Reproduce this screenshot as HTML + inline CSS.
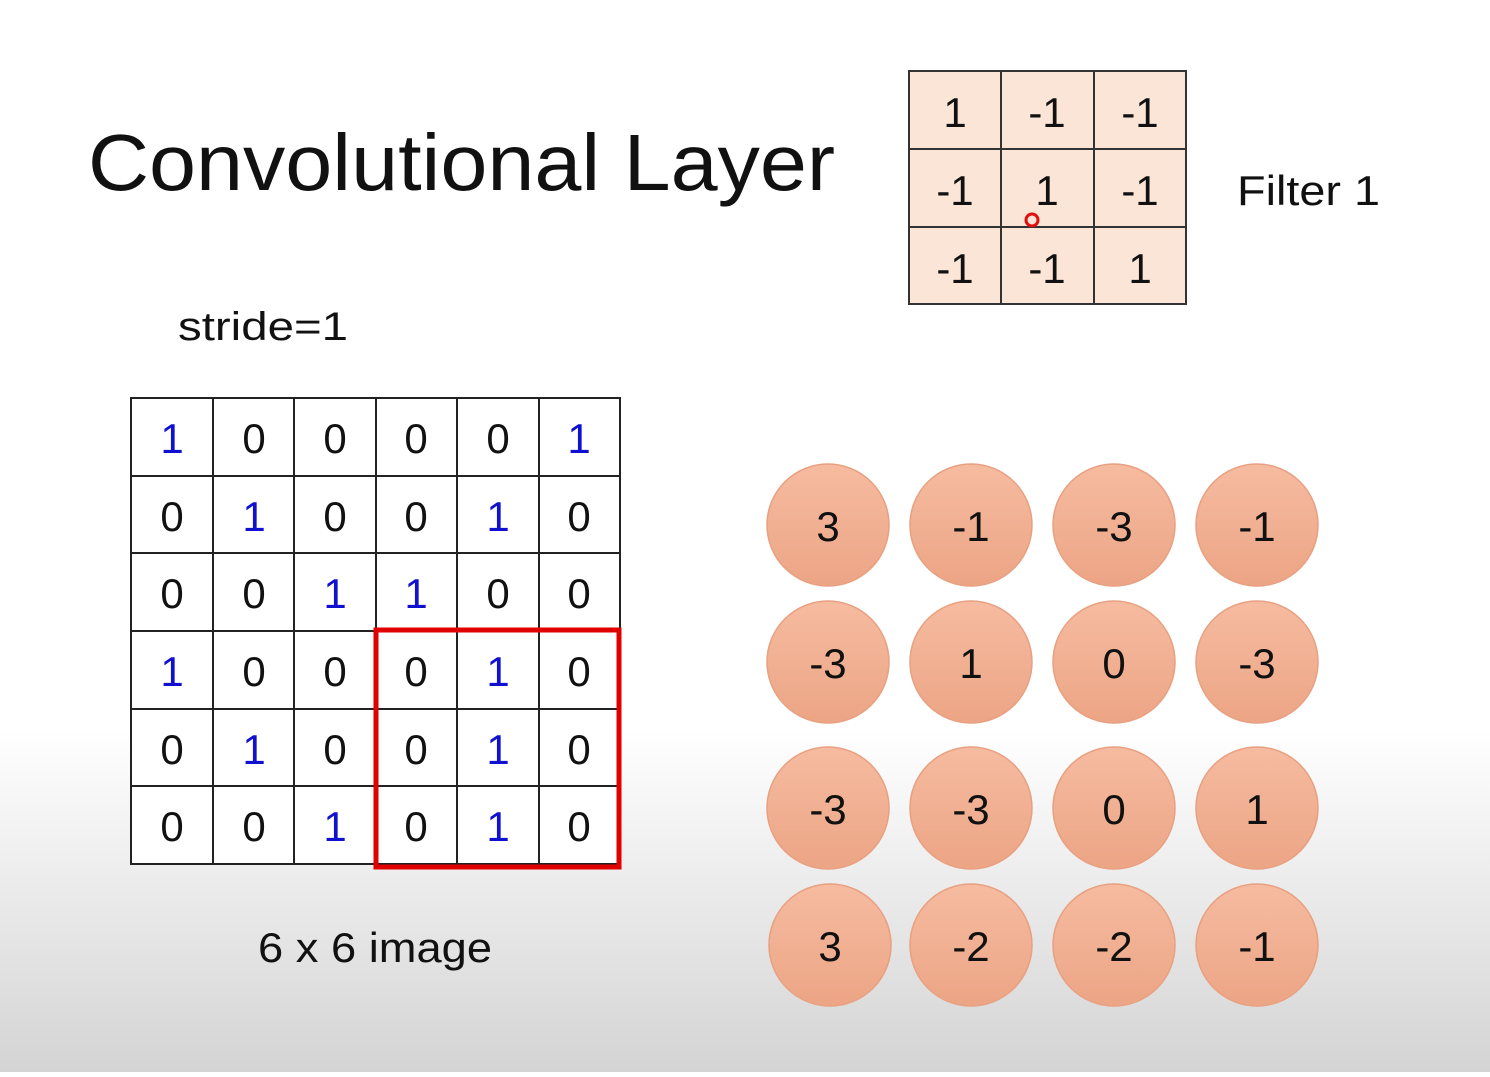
<!DOCTYPE html>
<html><head><meta charset="utf-8"><style>
html,body{margin:0;padding:0;}
body{width:1490px;height:1072px;overflow:hidden;}
svg text{font-family:"Liberation Sans",sans-serif;}
</style></head><body>
<svg width="1490" height="1072" xmlns="http://www.w3.org/2000/svg">
<defs>
<linearGradient id="bg" x1="0" y1="0" x2="0" y2="1">
<stop offset="0" stop-color="#ffffff"/>
<stop offset="0.68" stop-color="#ffffff"/>
<stop offset="1" stop-color="#d4d4d4"/>
</linearGradient>
<linearGradient id="cg" x1="0" y1="0" x2="0" y2="1">
<stop offset="0" stop-color="#f6bba0"/>
<stop offset="1" stop-color="#eca585"/>
</linearGradient>
</defs>
<rect width="1490" height="1072" fill="url(#bg)"/>
<text x="88" y="190" font-size="80" fill="#111" textLength="747" lengthAdjust="spacingAndGlyphs">Convolutional Layer</text>
<text x="178" y="340" font-size="40" fill="#111" textLength="170" lengthAdjust="spacingAndGlyphs">stride=1</text>
<text x="1237" y="205" font-size="42" fill="#111" textLength="143" lengthAdjust="spacingAndGlyphs">Filter 1</text>
<text x="258" y="962" font-size="42" fill="#111" textLength="234" lengthAdjust="spacingAndGlyphs">6 x 6 image</text>
<!-- filter -->
<g stroke="#333" stroke-width="2" fill="#fbe5d6">
<rect x="909" y="71" width="277" height="233"/>
</g>
<g stroke="#333" stroke-width="2">
<line x1="1001" y1="71" x2="1001" y2="304"/><line x1="1094" y1="71" x2="1094" y2="304"/>
<line x1="909" y1="149" x2="1186" y2="149"/><line x1="909" y1="227" x2="1186" y2="227"/>
</g>
<g font-size="42" fill="#111" text-anchor="middle">
<text x="955" y="127">1</text><text x="1047" y="127">-1</text><text x="1140" y="127">-1</text>
<text x="955" y="205">-1</text><text x="1047" y="205">1</text><text x="1140" y="205">-1</text>
<text x="955" y="283">-1</text><text x="1047" y="283">-1</text><text x="1140" y="283">1</text>
</g>
<circle cx="1032" cy="220" r="6" fill="none" stroke="#e01010" stroke-width="3"/>
<!-- image grid -->
<rect x="131" y="398" width="489" height="466" fill="#fff" stroke="#222" stroke-width="2"/>
<g stroke="#222" stroke-width="2">
<line x1="213" y1="398" x2="213" y2="864"/><line x1="294" y1="398" x2="294" y2="864"/>
<line x1="376" y1="398" x2="376" y2="864"/><line x1="457" y1="398" x2="457" y2="864"/>
<line x1="539" y1="398" x2="539" y2="864"/>
<line x1="131" y1="476" x2="620" y2="476"/><line x1="131" y1="553" x2="620" y2="553"/>
<line x1="131" y1="631" x2="620" y2="631"/><line x1="131" y1="709" x2="620" y2="709"/>
<line x1="131" y1="786" x2="620" y2="786"/>
</g>
<g font-size="42" text-anchor="middle">
<text y="453"><tspan x="172" fill="#1010d0">1</tspan><tspan x="254" fill="#111">0</tspan><tspan x="335" fill="#111">0</tspan><tspan x="416" fill="#111">0</tspan><tspan x="498" fill="#111">0</tspan><tspan x="579" fill="#1010d0">1</tspan></text>
<text y="531"><tspan x="172" fill="#111">0</tspan><tspan x="254" fill="#1010d0">1</tspan><tspan x="335" fill="#111">0</tspan><tspan x="416" fill="#111">0</tspan><tspan x="498" fill="#1010d0">1</tspan><tspan x="579" fill="#111">0</tspan></text>
<text y="608"><tspan x="172" fill="#111">0</tspan><tspan x="254" fill="#111">0</tspan><tspan x="335" fill="#1010d0">1</tspan><tspan x="416" fill="#1010d0">1</tspan><tspan x="498" fill="#111">0</tspan><tspan x="579" fill="#111">0</tspan></text>
<text y="686"><tspan x="172" fill="#1010d0">1</tspan><tspan x="254" fill="#111">0</tspan><tspan x="335" fill="#111">0</tspan><tspan x="416" fill="#111">0</tspan><tspan x="498" fill="#1010d0">1</tspan><tspan x="579" fill="#111">0</tspan></text>
<text y="764"><tspan x="172" fill="#111">0</tspan><tspan x="254" fill="#1010d0">1</tspan><tspan x="335" fill="#111">0</tspan><tspan x="416" fill="#111">0</tspan><tspan x="498" fill="#1010d0">1</tspan><tspan x="579" fill="#111">0</tspan></text>
<text y="841"><tspan x="172" fill="#111">0</tspan><tspan x="254" fill="#111">0</tspan><tspan x="335" fill="#1010d0">1</tspan><tspan x="416" fill="#111">0</tspan><tspan x="498" fill="#1010d0">1</tspan><tspan x="579" fill="#111">0</tspan></text>
</g>
<rect x="376" y="630" width="243" height="237" fill="none" stroke="#e00000" stroke-width="5"/>
<!-- circles -->
<g fill="url(#cg)" stroke="#e8a080" stroke-width="1.5">
<circle cx="828" cy="525" r="61"/><circle cx="971" cy="525" r="61"/><circle cx="1114" cy="525" r="61"/><circle cx="1257" cy="525" r="61"/>
<circle cx="828" cy="662" r="61"/><circle cx="971" cy="662" r="61"/><circle cx="1114" cy="662" r="61"/><circle cx="1257" cy="662" r="61"/>
<circle cx="828" cy="808" r="61"/><circle cx="971" cy="808" r="61"/><circle cx="1114" cy="808" r="61"/><circle cx="1257" cy="808" r="61"/>
<circle cx="830" cy="945" r="61"/><circle cx="971" cy="945" r="61"/><circle cx="1114" cy="945" r="61"/><circle cx="1257" cy="945" r="61"/>
</g>
<g font-size="42" fill="#111" text-anchor="middle">
<text x="828" y="541">3</text><text x="971" y="541">-1</text><text x="1114" y="541">-3</text><text x="1257" y="541">-1</text>
<text x="828" y="678">-3</text><text x="971" y="678">1</text><text x="1114" y="678">0</text><text x="1257" y="678">-3</text>
<text x="828" y="824">-3</text><text x="971" y="824">-3</text><text x="1114" y="824">0</text><text x="1257" y="824">1</text>
<text x="830" y="961">3</text><text x="971" y="961">-2</text><text x="1114" y="961">-2</text><text x="1257" y="961">-1</text>
</g>
</svg>
</body></html>
